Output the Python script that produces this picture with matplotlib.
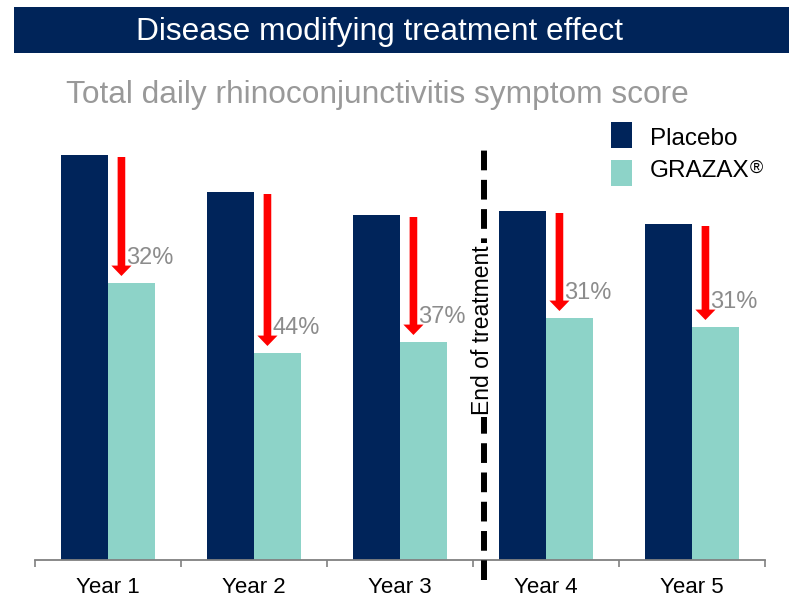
import matplotlib
matplotlib.use("Agg")
import matplotlib.pyplot as plt
from matplotlib.patches import Rectangle
import numpy as np

# ---- data ----
years = ["Year 1", "Year 2", "Year 3", "Year 4", "Year 5"]
placebo = [4.05, 3.68, 3.45, 3.49, 3.36]
grazax = [2.77, 2.07, 2.18, 2.42, 2.33]
reductions = ["32%", "44%", "37%", "31%", "31%"]
series_names = ["Placebo", "GRAZAX"]

title = "Disease modifying treatment effect"
subtitle = "Total daily rhinoconjunctivitis symptom score"
divider_label = "End of treatment"

# ---- style ----
NAVY = "#00245A"
TEAL = "#8DD3C8"
RED = "#FF0000"
GRAY_TXT = "#8C8C8C"
SUB_GRAY = "#999999"
FONT = "Liberation Sans"
plt.rcParams["font.family"] = [FONT, "DejaVu Sans"]

W, H = 789, 597
fig = plt.figure(figsize=(W / 100, H / 100), dpi=100)

def fx(px):
    return px / W

def fy(py):
    return (H - py) / H

# axes: x from 35.3 to 765.3 px, baseline at 560 px, top at 110 px
ax = fig.add_axes([fx(35.3), fy(560), fx(730), (560 - 110) / H])
ax.set_xlim(0, 5)
ax.set_ylim(0, 4.5)

x = np.arange(len(years)) + 0.5
bw = 0.322
ax.bar(x - bw / 2, placebo, width=bw, color=NAVY, linewidth=0)
ax.bar(x + bw / 2, grazax, width=bw, color=TEAL, linewidth=0)

# arrows and percent labels
arrow_dx = 0.09
for xi, p, g, lab in zip(x, placebo, grazax, reductions):
    ax_ = xi + arrow_dx
    ax.annotate("", xy=(ax_, g + 0.07), xytext=(ax_, p - 0.02),
                arrowprops=dict(arrowstyle="simple,head_length=0.75,head_width=1.45,tail_width=0.55",
                                color=RED, shrinkA=0, shrinkB=0, mutation_scale=10, lw=0))
    ax.annotate(lab, xy=(ax_, g + 0.07), xytext=(5, 18), textcoords="offset pixels",
                ha="left", va="center", fontsize=17, color=GRAY_TXT)

# dashed divider
xd = 3.07
ax.plot([xd, xd], [-0.2, 4.13], color="black", lw=4.3, dashes=(3.3, 1.6),
        dash_capstyle="butt", clip_on=False, zorder=3)
ax.text(xd - 0.005, 2.30, divider_label, rotation=90, ha="center", va="center",
        fontsize=16.5, color="black", zorder=4,
        bbox=dict(facecolor="white", edgecolor="none", pad=1.5))

# axis styling
for s in ["top", "right", "left"]:
    ax.spines[s].set_visible(False)
ax.spines["bottom"].set_color("#808080")
ax.spines["bottom"].set_linewidth(1.3)
ax.set_yticks([])
ax.set_xticks(np.arange(0, 6))
ax.set_xticklabels([])
ax.tick_params(axis="x", which="major", direction="out", length=5, width=1.2, color="#808080")
ax.set_xticks(x, years, minor=True)
ax.tick_params(axis="x", which="minor", length=0, pad=12, labelsize=16, labelcolor="black")

# title bar
fig.patches.append(Rectangle((fx(14), fy(53)), fx(775), 46 / H, transform=fig.transFigure,
                             facecolor="#002459", edgecolor="none", zorder=0))
fig.text(fx(380), fy(40), title, ha="center", va="baseline", fontsize=22.8, color="white")

# subtitle
fig.text(fx(65.7), fy(103.3), subtitle, ha="left", va="baseline", fontsize=22.8, color=SUB_GRAY)

# legend (manual)
for (y0, col, name) in [(122.5, NAVY, series_names[0]), (160, TEAL, series_names[1])]:
    fig.patches.append(Rectangle((fx(611), fy(y0 + 25.5)), fx(21), 25.5 / H,
                                 transform=fig.transFigure, facecolor=col, edgecolor="none"))
t1 = fig.text(fx(650), fy(145), series_names[0], ha="left", va="baseline", fontsize=17.5, color="black")
t2 = fig.text(fx(650), fy(176.7), series_names[1], ha="left", va="baseline", fontsize=17.5, color="black")
ax.annotate("®", xy=(1.0, 1.0), xycoords=t2, ha="left", va="top", fontsize=13, color="black",
            annotation_clip=False)

fig.savefig("out.png", dpi=100)
